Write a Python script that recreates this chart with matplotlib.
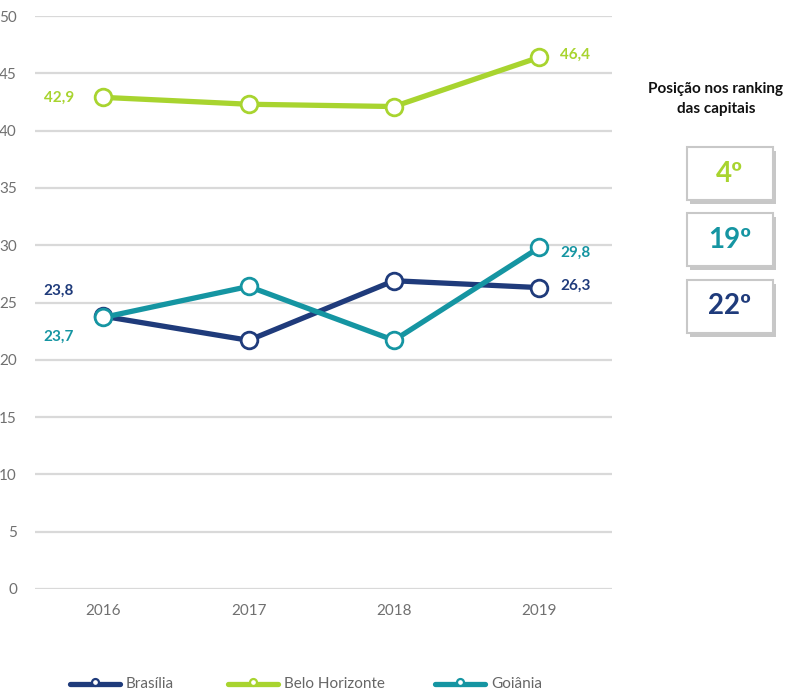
import matplotlib
matplotlib.use("Agg")
import matplotlib.pyplot as plt
from matplotlib.patches import Rectangle
from matplotlib.lines import Line2D

# Data
years = ["2016", "2017", "2018", "2019"]
brasilia = [23.8, 21.7, 26.9, 26.3]
belo_horizonte = [42.9, 42.3, 42.1, 46.4]
goiania = [23.7, 26.4, 21.7, 29.8]
series_names = ["Brasília", "Belo Horizonte", "Goiânia"]
rankings = ["4º", "19º", "22º"]
y_ticks = [0, 5, 10, 15, 20, 25, 30, 35, 40, 45, 50]

navy = "#1f3b7b"
lime = "#a8d42f"
teal = "#1595a2"
grid_c = "#d9d9d9"
tick_c = "#707070"

plt.rcParams["font.family"] = ["Lato", "DejaVu Sans"]

W, H = 810, 693
fig = plt.figure(figsize=(W / 100, H / 100), dpi=100)
ax = fig.add_axes([35 / W, (H - 589) / H, (612 - 35) / W, (589 - 16) / H])

x = list(range(len(years)))
style = dict(lw=3.8, marker="o", ms=12, mfc="white", mew=2.0, clip_on=False,
             solid_capstyle="round")
ax.plot(x, belo_horizonte, color=lime, zorder=3, **style)
ax.plot(x, brasilia, color=navy, zorder=4, **style)
ax.plot(x, goiania, color=teal, zorder=5, **style)

ax.set_ylim(0, 50)
ax.set_xlim(-0.47, 3.5)
ax.set_yticks(y_ticks)
ax.set_xticks(x)
ax.set_xticklabels(years)
for yv in y_ticks:
    ax.axhline(yv, color=grid_c, lw=1.6, zorder=1)
for s in ax.spines.values():
    s.set_visible(False)
ax.tick_params(axis="both", length=0, colors=tick_c, labelsize=11)
ax.tick_params(axis="y", pad=13)
ax.tick_params(axis="x", pad=11)
ax.set_facecolor("white")

lbl = dict(fontsize=11, fontweight="bold", textcoords="offset points")
fmt = lambda v: f"{v:.1f}".replace(".", ",")
ax.annotate(fmt(belo_horizonte[0]), (x[0], belo_horizonte[0]), xytext=(-21, 0),
            ha="right", va="center", color=lime, **lbl)
ax.annotate(fmt(brasilia[0]), (x[0], brasilia[0]), xytext=(-21, 18),
            ha="right", va="center", color=navy, **lbl)
ax.annotate(fmt(goiania[0]), (x[0], goiania[0]), xytext=(-21, -14),
            ha="right", va="center", color=teal, **lbl)
ax.annotate(fmt(belo_horizonte[3]), (x[3], belo_horizonte[3]), xytext=(15, 1.5),
            ha="left", va="center", color=lime, **lbl)
ax.annotate(fmt(goiania[3]), (x[3], goiania[3]), xytext=(15, -4),
            ha="left", va="center", color=teal, **lbl)
ax.annotate(fmt(brasilia[3]), (x[3], brasilia[3]), xytext=(15, 1),
            ha="left", va="center", color=navy, **lbl)

# Ranking panel
fig.text(716 / W, 1 - 99 / H, "Posição nos ranking\ndas capitais", ha="center",
         va="center", fontsize=11, fontweight="bold", color="#111111",
         linespacing=1.6)
box_colors = [lime, teal, navy]
box_tops = [147, 213, 280]
bw, bh = 86, 53
for rank, col, top in zip(rankings, box_colors, box_tops):
    left = 687
    shadow = Rectangle(((left + 3) / W, 1 - (top + bh + 4) / H), bw / W, bh / H,
                       transform=fig.transFigure, facecolor="#9a9a9a", alpha=0.55,
                       edgecolor="none", zorder=1)
    box = Rectangle((left / W, 1 - (top + bh) / H), bw / W, bh / H,
                    transform=fig.transFigure, facecolor="white", edgecolor="#c8c8c8",
                    lw=1.5, zorder=2)
    fig.patches.extend([shadow, box])
    fig.text((left + bw / 2) / W, 1 - (top + bh / 2) / H, rank, ha="center",
             va="center", fontsize=20, fontweight="bold", color=col, zorder=3)

# Legend, laid out item by item along the bottom
leg_y = 1 - 684 / H
for name, col, x0 in zip(series_names, (navy, lime, teal), (70, 228, 435)):
    fig.add_artist(Line2D([x0 / W, (x0 + 50) / W], [leg_y, leg_y], color=col, lw=3.8,
                          solid_capstyle="round", transform=fig.transFigure))
    fig.add_artist(Line2D([(x0 + 25) / W], [leg_y + 2.5 / H], color=col, marker="o",
                          ms=5, mfc="white", mew=1.6, transform=fig.transFigure))
    fig.text((x0 + 56) / W, leg_y, name, ha="left", va="center", fontsize=11,
             color="#666666")

fig.savefig("out.png", dpi=100, facecolor="white")
